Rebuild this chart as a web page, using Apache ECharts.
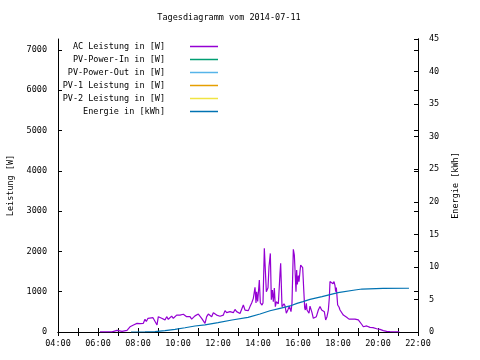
<!DOCTYPE html>
<html><head><meta charset="utf-8">
<script src="https://cdn.jsdelivr.net/npm/echarts@6/dist/echarts.min.js"></script>
<style>html,body{margin:0;padding:0;background:#fff}#c{width:480px;height:360px}</style>
</head><body><div id="c"></div>
<script>
const titleText = 'Tagesdiagramm vom 2014-07-11';
const seriesNames = ['AC Leistung in [W]', 'PV-Power-In in [W]', 'PV-Power-Out in [W]', 'PV-1 Leistung in [W]', 'PV-2 Leistung in [W]', 'Energie in [kWh]'];
const seriesColors = ['#9400d3', '#009e73', '#56b4e9', '#e69f00', '#f0e442', '#0072b2'];

const acTimes = ['06:06','06:42','06:45','06:57','07:00','07:12','07:15','07:27','07:30','07:36','07:42','07:48','07:57','08:06','08:12','08:16','08:21','08:25','08:30','08:36','08:45','08:51','08:57',
'09:01','09:06','09:11','09:16','09:21','09:26','09:31','09:36','09:41','09:46','09:51','09:56','10:01','10:06','10:11','10:16','10:21','10:26','10:31','10:36','10:41','10:46','10:51','10:56',
'11:01','11:06','11:11','11:16','11:21','11:26','11:31','11:36','11:41','11:46','11:51','11:56','12:01','12:06','12:11','12:16','12:21','12:26','12:31','12:36','12:41','12:46','12:51','12:56',
'13:01','13:06','13:11','13:16','13:21','13:26','13:31','13:36','13:41','13:46','13:51','13:54','13:56','13:59','14:01','14:04','14:07','14:09','14:12','14:15','14:19','14:22','14:25','14:28','14:30','14:33','14:37','14:40','14:43','14:46','14:49','14:52','14:55','14:58',
'15:01','15:03','15:06','15:08','15:10','15:12','15:15','15:18','15:21','15:25','15:30','15:34','15:39','15:42','15:46','15:49','15:52','15:54','15:56','15:58',
'16:01','16:03','16:06','16:08','16:11','16:14','16:17','16:20','16:22','16:25','16:27','16:30','16:33','16:36','16:39','16:42','16:46','16:51','16:55',
'17:01','17:06','17:11','17:16','17:19','17:23','17:27','17:31','17:34','17:36','17:40','17:45','17:48','17:51','17:53','17:55','17:59',
'18:03','18:06','18:11','18:16','18:19','18:26','18:33','18:51','19:01','19:06','19:12','19:16','19:26','19:36','19:45','19:56','20:06','20:16','20:26','20:36','20:51','21:04'];
const acValues = [5,5,40,40,15,15,40,40,60,130,120,180,215,210,255,215,315,260,340,300,355,340,175,
380,390,340,380,300,380,315,355,395,340,300,420,460,420,380,440,420,380,340,380,320,365,400,420,
445,400,340,315,215,380,445,420,380,480,445,420,380,390,365,420,530,480,445,505,530,480,560,505,
530,460,505,670,545,505,530,630,720,835,1110,720,1000,760,960,1290,720,750,670,720,2075,2075,1000,1000,1100,1620,1950,800,1040,750,1090,630,750,750,700,
1000,1455,1705,1660,630,600,700,650,465,560,640,505,720,2050,1910,1370,1000,1540,1180,
1400,1250,1500,1660,1705,1600,1085,600,545,710,545,590,465,640,560,480,340,315,380,
545,630,545,590,505,300,380,545,850,1250,1275,1200,1250,1150,1000,1100,670,
620,545,505,420,400,365,320,320,300,255,180,130,150,115,110,80,65,35,15,10,5,5];

const energyTimes = ['07:39','08:21','08:51','09:21','09:51','10:21','10:51','11:21','12:00','12:42','13:30','14:06','14:36','15:06','15:36','15:57','16:15','16:36','17:12','18:00','18:51','19:12','20:15','21:33'];
const energyValues = [0,0.02,0.05,0.22,0.41,0.65,0.92,1.1,1.45,1.84,2.25,2.76,3.27,3.64,4.0,4.4,4.66,5.02,5.43,6.04,6.45,6.6,6.7,6.72];

const leftMax = 7270, leftStep = 1000;
const rightMax = 45, rightStep = 5;

function toHour(s){ const p = s.split(':'); return +p[0] + (+p[1])/60; }
function pair(ts, vs){ return ts.map((t,i)=>[toHour(t), vs[i]]); }

const FONT = 'DejaVu Sans Mono';
const FS = 8.5;
const chart = echarts.init(document.getElementById('c'), null, {renderer:'canvas'});

const axisLine = {show:true, lineStyle:{color:'#000', width:1}};
const tick = {show:true, inside:true, length:4, lineStyle:{color:'#000'}};
const minor = {show:true, splitNumber:2, length:4, lineStyle:{color:'#000'}};

const seriesData = [pair(acTimes, acValues), [], [], [], [], pair(energyTimes, energyValues)];

const legends = seriesNames.map((n,i)=>({
  data:[n], orient:'vertical', right:262, top:42 + i*13, align:'right', padding:0,
  icon:'rect', itemWidth:28, itemHeight:1.5, selectedMode:false,
  textStyle:{fontFamily:FONT, fontSize:FS, color:'#000', padding:[0,20,0,0]}
}));

chart.setOption({
  animation:false,
  backgroundColor:'#fff',
  title:{text:titleText, left:224, top:8, textAlign:'center',
    textStyle:{fontFamily:FONT, fontSize:FS, fontWeight:'normal', color:'#000'}},
  legend: legends,
  grid:{left:58, top:39, width:360, height:293, containLabel:false, outerBoundsMode:'none'},
  xAxis:[{
    type:'value', min:4, max:22, interval:2, position:'bottom',
    axisLine:axisLine, axisTick:tick, minorTick:minor, splitLine:{show:false},
    axisLabel:{margin:7, fontFamily:FONT, fontSize:FS, color:'#000',
      formatter:v=>String(v).padStart(2,'0')+':00'}
  },{
    type:'value', min:4, max:22, interval:2, position:'top',
    axisLine:axisLine, axisTick:tick, minorTick:minor, splitLine:{show:false}, axisLabel:{show:false}
  }],
  yAxis:[{
    type:'value', min:0, max:leftMax, interval:leftStep, position:'left',
    name:'Leistung [W]', nameLocation:'middle', nameGap:43, nameRotate:90,
    nameTextStyle:{fontFamily:FONT, fontSize:FS, color:'#000'},
    axisLine:axisLine, axisTick:tick, splitLine:{show:false},
    axisLabel:{margin:11, fontFamily:FONT, fontSize:FS, color:'#000', showMaxLabel:false,
      formatter:v=>String(v)}
  },{
    type:'value', min:0, max:rightMax, interval:rightStep, position:'right',
    name:'Energie [kWh]', nameLocation:'middle', nameGap:33, nameRotate:90,
    nameTextStyle:{fontFamily:FONT, fontSize:FS, color:'#000'},
    axisLine:axisLine, axisTick:tick, splitLine:{show:false},
    axisLabel:{margin:11, fontFamily:FONT, fontSize:FS, color:'#000', formatter:v=>String(v)}
  },{
    type:'value', min:0, max:leftMax, interval:leftStep, position:'right',
    axisLine:axisLine, axisTick:tick, splitLine:{show:false}, axisLabel:{show:false}
  }],
  series: seriesNames.map((n,i)=>({
    name:n, type:'line', data:seriesData[i], showSymbol:false, symbol:'none',
    xAxisIndex:0, yAxisIndex: i===5 ? 1 : 0,
    lineStyle:{color:seriesColors[i], width:1.2}, itemStyle:{color:seriesColors[i]},
    emphasis:{disabled:true}
  }))
});
</script></body></html>
